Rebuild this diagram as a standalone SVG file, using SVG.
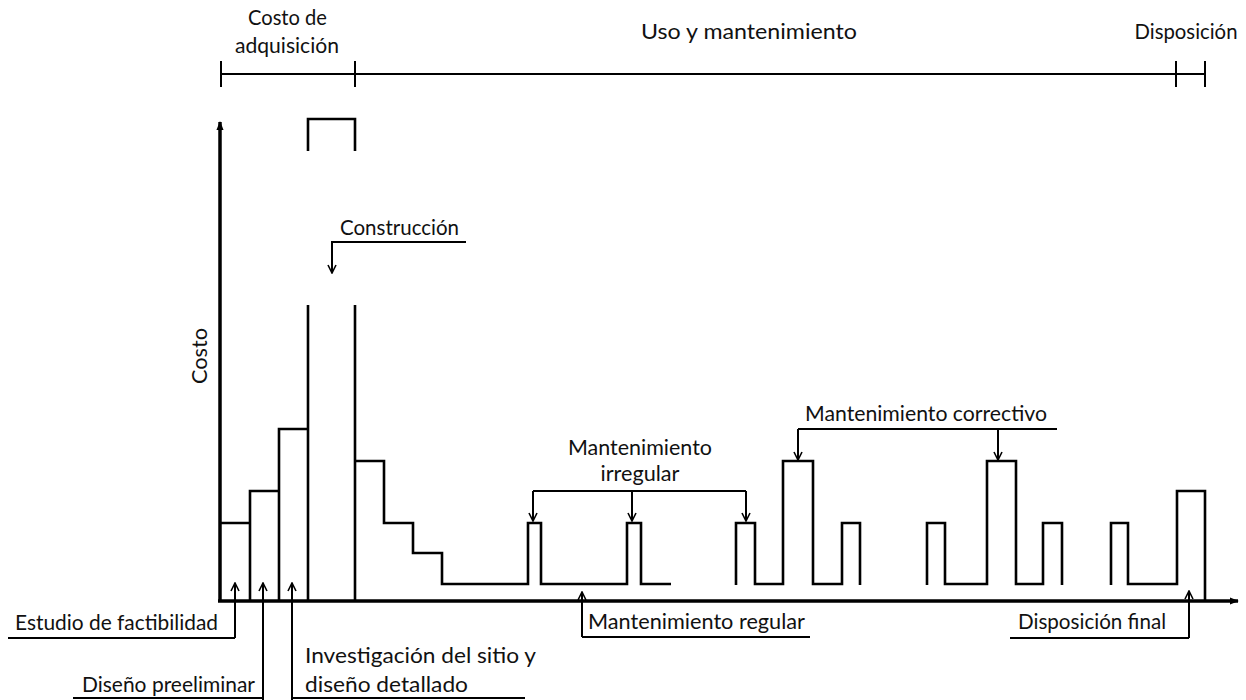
<svg xmlns="http://www.w3.org/2000/svg" width="1246" height="700" viewBox="0 0 1246 700">
<style>
text{font-family:Lato,"Open Sans","Liberation Sans",sans-serif;font-size:20.5px;fill:#111}
.c{text-anchor:middle}
.plot{fill:none;stroke:#000;stroke-width:2.6;stroke-linejoin:miter}
.axis{fill:none;stroke:#000;stroke-width:3.5}
.tl{fill:none;stroke:#000;stroke-width:2}
.lead{fill:none;stroke:#000;stroke-width:2}
.arr{fill:none;stroke:#000;stroke-width:2;marker-end:url(#chev)}
</style>
<defs>
<marker id="chev" viewBox="0 0 10 10" refX="9" refY="5" markerWidth="10" markerHeight="10" markerUnits="userSpaceOnUse" orient="auto">
<path d="M1,1 L9,5 L1,9" fill="none" stroke="#000" stroke-width="1.6"/>
</marker>
<marker id="tri" viewBox="0 0 10 10" refX="9" refY="5" markerWidth="9" markerHeight="9" markerUnits="userSpaceOnUse" orient="auto">
<path d="M0,1 L10,5 L0,9 Z" fill="#000"/>
</marker>
</defs>
<rect width="1246" height="700" fill="#fff"/>

<g id="timeline">
<path class="tl" d="M221,74 H1205 M221,61 V87 M355,61 V87 M1176,61 V87 M1205,61 V87"/>
<text class="c" x="287.5" y="25" textLength="79" lengthAdjust="spacingAndGlyphs">Costo de</text>
<text class="c" x="287" y="53" textLength="104" lengthAdjust="spacingAndGlyphs">adquisición</text>
<text class="c" x="749" y="39" textLength="216" lengthAdjust="spacingAndGlyphs">Uso y mantenimiento</text>
<text class="c" x="1186" y="39" textLength="103" lengthAdjust="spacingAndGlyphs">Disposición</text>
</g>

<g id="axes">
<path class="axis" d="M220,602 V122" marker-end="url(#tri)"/>
<path class="axis" d="M218,601 H1238" marker-end="url(#tri)"/>
<text class="c" transform="translate(207,356) rotate(-90)" textLength="56" lengthAdjust="spacingAndGlyphs">Costo</text>
</g>

<g id="cost-curve">
<path class="plot" d="M308,151 V119 H355 V151"/>
<path class="plot" d="M220,523 H250 M250,600 V491 H279 M279,600 V429 H308 M308,600 V305 M355,600 V305"/>
<path class="plot" d="M355,461 H384 V523 H413 V553 H442 V584 H528 V523 H541 V584 H627 V523 H641 V584 H671"/>
<path class="plot" d="M736,585 V523 H755 V584 H783 V461 H813 V584 H842 V523 H860 V585"/>
<path class="plot" d="M927,585 V523 H945 V584 H987 V461 H1016 V584 H1043 V523 H1062 V585"/>
<path class="plot" d="M1111,585 V523 H1128 V584 H1177 V491 H1205 V600"/>
</g>

<g id="connectors">
<path class="lead" d="M466,242 H332 V248"/>
<path class="arr" d="M332,242 V273"/>
<path class="lead" d="M533,491 H746"/>
<path class="arr" d="M533,491 V521"/>
<path class="arr" d="M632,491 V521"/>
<path class="arr" d="M746,491 V521"/>
<path class="lead" d="M1057,429 H798"/>
<path class="arr" d="M798,429 V460"/>
<path class="arr" d="M998,429 V460"/>
<path class="lead" d="M8,638 H235"/>
<path class="arr" d="M235,638 V583"/>
<path class="lead" d="M73,698 H263"/>
<path class="arr" d="M263,700 V583"/>
<path class="lead" d="M525,698 H292"/>
<path class="arr" d="M292,700 V583"/>
<path class="lead" d="M810,637 H582"/>
<path class="arr" d="M582,637 V592"/>
<path class="lead" d="M1010,638 H1189"/>
<path class="arr" d="M1189,638 V591"/>
</g>

<g id="label-construccion"><text class="c" x="399.5" y="235" textLength="119" lengthAdjust="spacingAndGlyphs">Construcción</text></g>
<g id="label-irregular">
<text class="c" x="640" y="455" textLength="144" lengthAdjust="spacingAndGlyphs">Mantenimiento</text>
<text class="c" x="640" y="481" textLength="79" lengthAdjust="spacingAndGlyphs">irregular</text>
</g>
<g id="label-correctivo"><text class="c" x="926" y="421" textLength="242" lengthAdjust="spacingAndGlyphs">Mantenimiento correctivo</text></g>
<g id="label-regular"><text x="588" y="629" textLength="217" lengthAdjust="spacingAndGlyphs">Mantenimiento regular</text></g>
<g id="label-disposicion-final"><text x="1018" y="629" textLength="148" lengthAdjust="spacingAndGlyphs">Disposición final</text></g>
<g id="label-estudio"><text x="15" y="630" textLength="203" lengthAdjust="spacingAndGlyphs">Estudio de factibilidad</text></g>
<g id="label-diseno"><text x="82" y="692" textLength="173" lengthAdjust="spacingAndGlyphs">Diseño preeliminar</text></g>
<g id="label-investigacion">
<text x="305" y="663" textLength="231" lengthAdjust="spacingAndGlyphs">Investigación del sitio y</text>
<text x="305" y="692" textLength="163" lengthAdjust="spacingAndGlyphs">diseño detallado</text>
</g>
</svg>
